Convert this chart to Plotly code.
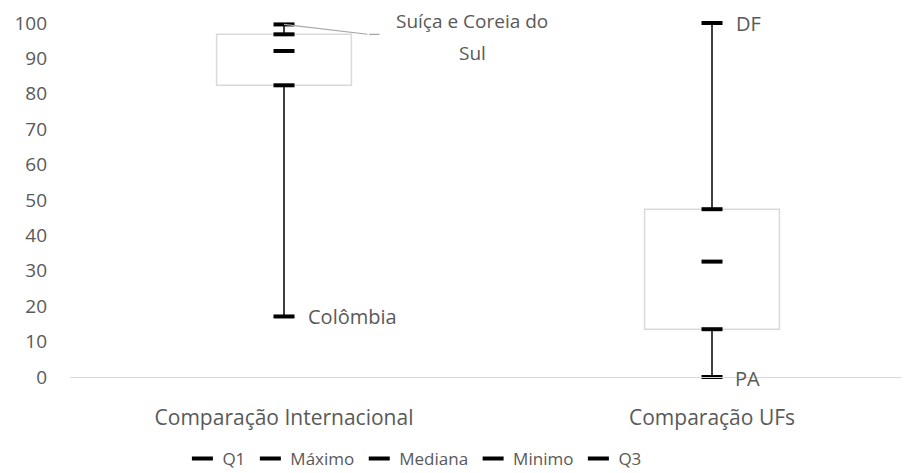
import plotly.graph_objects as go

categories = ["Comparação Internacional", "Comparação UFs"]
q1 = [82.4, 13.5]
maximo = [99.6, 100.0]
mediana = [92.1, 32.6]
minimo = [17.1, 0.0]
q3 = [96.8, 47.4]
y_ticks = [0, 10, 20, 30, 40, 50, 60, 70, 80, 90, 100]

TEXT = "#595959"
FONT = "Open Sans"

fig = go.Figure()

# high-low line (drawn first so the box covers it)
fig.add_trace(go.Bar(
    x=categories, y=[hi - lo for hi, lo in zip(maximo, minimo)], base=minimo,
    width=0.004, marker=dict(color="#404040", line=dict(width=0)),
    showlegend=False, hoverinfo="skip",
))
# up-down box (Q1..Q3)
fig.add_trace(go.Bar(
    x=categories, y=[b - a for a, b in zip(q1, q3)], base=q1,
    width=0.315, marker=dict(color="white", line=dict(color="#d9d9d9", width=1.5)),
    showlegend=False, hoverinfo="skip",
))

for name, vals in [("Q1", q1), ("Máximo", maximo), ("Mediana", mediana),
                   ("Minimo", minimo), ("Q3", q3)]:
    fig.add_trace(go.Scatter(
        x=categories, y=vals, name=name, mode="markers", cliponaxis=False,
        marker=dict(symbol="line-ew", size=15, line=dict(color="black", width=4)),
    ))

lbl = dict(font=dict(family=FONT, size=20, color=TEXT), showarrow=False,
           xanchor="left", xshift=22)
fig.add_annotation(x=categories[0], y=minimo[0], text="Colômbia", **lbl)
fig.add_annotation(x=categories[1], y=maximo[1], text="DF", **lbl)
fig.add_annotation(x=categories[1], y=minimo[1], text="PA", yshift=-1, xshift=21,
                   font=lbl["font"], showarrow=False, xanchor="left")

# leader line for the international max
lead = dict(x=categories[0], y=maximo[0], text="", showarrow=True, arrowhead=0,
            arrowwidth=1.2, arrowcolor="#a6a6a6", axref="pixel", ayref="pixel")
fig.add_annotation(ax=85, ay=10, **lead)
fig.add_annotation(ax=12, ay=0, xshift=85, yshift=-10, **lead)
top = dict(x=categories[0], y=maximo[0], showarrow=False,
           font=dict(family=FONT, size=19, color=TEXT), xanchor="center")
fig.add_annotation(text="Suíça e Coreia do", xshift=188, yshift=3.5, **top)
fig.add_annotation(text="Sul", xshift=188, yshift=-28.5, **top)

# page body has an 8px margin, so the figure is sized to fit the window
fig.update_layout(
    width=902, height=465,
    margin=dict(l=62, r=0, t=15, b=95.5),
    paper_bgcolor="white", plot_bgcolor="white",
    barmode="overlay",
    font=dict(family=FONT, size=18, color=TEXT),
    xaxis=dict(
        range=[-0.5, 1.4626], showgrid=False, zeroline=False, automargin=False,
        showline=True, linecolor="#d9d9d9", linewidth=1.3,
        ticks="", ticklabelstandoff=22, tickfont=dict(size=21, color=TEXT),
    ),
    yaxis=dict(
        range=[0, 100], tickvals=y_ticks, showgrid=False, zeroline=False,
        showline=False, ticks="", ticklabelstandoff=22, automargin=False,
        tickfont=dict(size=19, color=TEXT),
    ),
    legend=dict(
        orientation="h", x=0.41, xanchor="center",
        yref="container", y=0.03, yanchor="middle",
        font=dict(size=17, color=TEXT), itemwidth=30, tracegroupgap=0,
    ),
)

fig.write_html("out.html")
